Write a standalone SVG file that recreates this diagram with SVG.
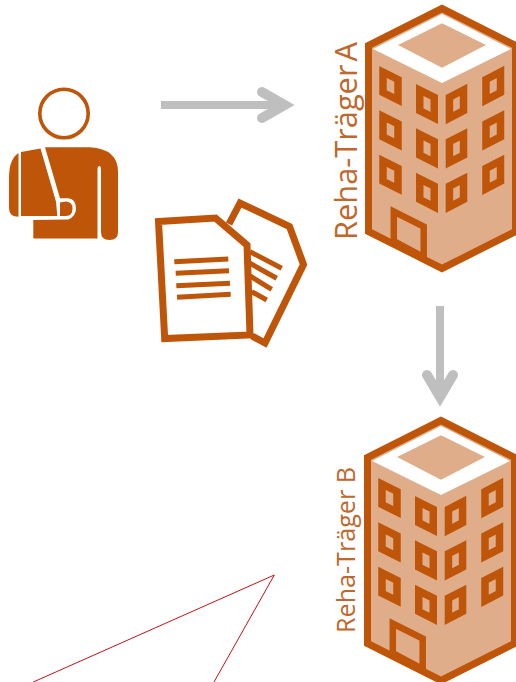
<svg xmlns="http://www.w3.org/2000/svg" width="516" height="682" viewBox="0 0 516 682">
<style>
.d{fill:#BF5508}
.w{fill:none;stroke:#BF5508;stroke-width:7.5}
.l{fill:none;stroke:#BF5508;stroke-width:5}
.p{fill:#fff;stroke:#BF5508;stroke-width:7}
.n{fill:none;stroke:#BF5508;stroke-width:7}
.a{fill:none;stroke:#BFBFBF;stroke-width:8}
.h{fill:none;stroke:#BFBFBF;stroke-width:10;stroke-linecap:round;stroke-linejoin:miter}
.t{font-family:"Open Sans",sans-serif;fill:#C0672B}
.r{fill:none;stroke:#C8101A;stroke-width:1}
</style>
<defs>
<g id="bld">
<polygon points="442,8.5 368.5,45.5 368.5,231.5 442,268.5 515.5,231.5 515.5,45.5" fill="#E0AD8A" stroke="#BF5508" stroke-width="7"/>
<polygon points="442,14 373,49 442,83 511,49" fill="#fff"/>
<polygon points="442,23.3 398,45 442,67.7 486,45" fill="#E0AD8A"/>
<g id="rows">
<polygon class="w" points="383,72 398,79.5 398,100 383,92.5"/>
<polygon class="w" points="419.75,90 434.25,97.25 434.25,118 419.75,110.7"/>
<polygon class="w" points="449.45,97.25 463.55,90 463.55,110.7 449.45,118"/>
<polygon class="w" points="486,79.5 500.5,72 500.5,92.5 486,100"/>
</g>
<use href="#rows" y="44.4"/>
<use href="#rows" y="88.8"/>
<polygon points="393.8,241 393.8,211.5 423.7,226.5 423.7,257" fill="none" stroke="#BF5508" stroke-width="6.5"/>
</g>
</defs>
<g id="connectors">
<path class="a" d="M161,105H288"/>
<path class="h" d="M262,92L284.6,105L262,118"/>
<path class="a" d="M440,306V395"/>
<path class="h" d="M427,375L440,397L453,375"/>
<path class="r" d="M33.3,682L274.3,575L214,682"/>
</g>
<g id="person">
<circle cx="64" cy="113.5" r="24.2" fill="none" stroke="#BF5508" stroke-width="3.6"/>
<path class="d" d="M18.5,153Q9,159 9,178V208Q9,216.7 18.5,216.7Z"/>
<path class="d" d="M21,152L40.5,148.5L56,201.7L57.3,216H21Z"/>
<path class="d" d="M60,202.5L66,201.5Q72.5,202 72.5,208.5Q72.5,216 66,216H60Z"/>
<path class="d" d="M45,147.3H90Q118,149 118,172V232Q118,240 109.5,240Q101,240 101,232V170Q101,166 99.3,166Q97.5,166 97.5,170V238.5H33.3V220L68.3,219.5Q76,216 76,208.5Q76,199 68.3,198.3H60Z"/>
</g>
<g id="documents">
<path class="n" d="M229,224L240,203L289.5,226.5L303.5,264.5L265,343L252,336"/>
<polygon class="p" points="158.5,221.5 215.5,218 247,245 250,335 164.7,338.5"/>
<path class="l" d="M250,251.7L281.7,268.3M250,263.3L276.7,278.3M250,276L271.7,289.3M251.7,291.7L266.7,300M174.3,261.7L228.3,259M175.7,273.3L229,270.7M176.3,285.7L230,283.3M177,297.3L230.7,294.3"/>
</g>
<g id="rehaA">
<use href="#bld"/>
<text class="t" transform="translate(357,240) rotate(-90)" font-size="31" word-spacing="-5" textLength="198" lengthAdjust="spacingAndGlyphs">Reha-Träger A</text>
</g>
<g id="rehaB">
<use href="#bld" transform="translate(-1,412)"/>
<text class="t" transform="translate(355,633) rotate(-90)" font-size="26" textLength="166" lengthAdjust="spacingAndGlyphs">Reha-Träger B</text>
</g>
</svg>
